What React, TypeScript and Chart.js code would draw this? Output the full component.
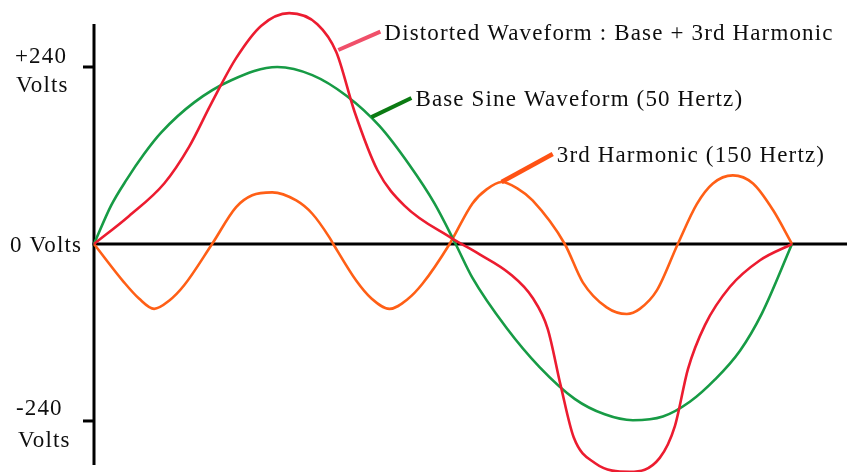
import React, { useEffect, useRef } from "react";
import { Chart, registerables } from "chart.js";

Chart.register(...registerables);

// Phase angle (degrees) and voltage readings for each waveform
const baseDeg = [0, 8.8, 17.0, 25.8, 34.6, 51.7, 70.8, 94.5, 112.6, 130.2, 147.2, 162.7, 175.6, 186.5, 195.2, 212.8, 229.8, 247.9, 263.4, 277.9, 293.4, 307.3, 320.2, 333.1, 344.5, 360];
const baseVolts = [0, 52, 88, 122, 151, 192, 222, 240, 229, 201, 160, 107, 55, 0, -46, -114, -167, -210, -231, -239, -234, -214, -184, -145, -94, 0];

const distDeg = [0, 18.1, 36.2, 49.1, 60.4, 73.3, 86.3, 100.7, 115.2, 125.0, 134.3, 146.2, 160.1, 184.4, 198.9, 214.3, 226.2, 234.0, 240.7, 247.4, 258.3, 276.3, 291.8, 299.6, 306.3, 315.1, 328.0, 343.5, 360];
const distVolts = [0, 38, 82, 132, 190, 252, 296, 313, 298, 260, 180, 100, 52, 8, -14, -40, -73, -115, -192, -262, -297, -309, -290, -247, -170, -110, -58, -22, 0];

const harmDeg = [0, 15.5, 23.2, 31.0, 38.7, 46.5, 60.9, 73.3, 81.6, 91.9, 104.3, 112.6, 121.4, 123.4, 135.3, 143.1, 152.4, 161.7, 169.4, 183.4, 195.2, 202.5, 210.2, 218.5, 226.2, 242.8, 252.1, 264.4, 274.8, 281.5, 290.3, 301.1, 310.9, 319.2, 329.5, 339.9, 350.2, 360];
const harmVolts = [0, -52, -74, -88, -77, -56, 0, 50, 66, 70, 59, 41, 9, 0, -50, -74, -88, -75, -54, 0, 55, 74, 84, 75, 59, 0, -52, -86, -95, -88, -63, 0, 54, 82, 93, 82, 46, 0];

const seriesNames = ["Distorted Waveform", "Base Sine Waveform", "3rd Harmonic"];

// Callout labels with pointer start (on curve) and end, in data units
const calloutTexts = [
  "Distorted Waveform : Base + 3rd Harmonic",
  "Base Sine Waveform (50 Hertz)",
  "3rd Harmonic (150 Hertz)",
];
const calloutStartDeg = [126.0, 143.1, 210.2];
const calloutStartVolts = [263, 172, 84];
const calloutEndDeg = [147.7, 163.7, 236.6];
const calloutEndVolts = [288, 198, 122];

// Axis tick values and labels
const tickValues = [240, 0, -240];
const tickLabels = [["+240", "Volts"], ["0 Volts"], ["-240", "Volts"]];

const toPoints = (xs: number[], ys: number[]) => xs.map((x, i) => ({ x, y: ys[i] }));

export default function App() {
  const ref = useRef<HTMLCanvasElement | null>(null);

  useEffect(() => {
    document.body.style.margin = "0";
    const canvas = ref.current;
    if (!canvas) return;

    const font = '23px "Liberation Serif", "Times New Roman", serif';

    const overlay = {
      id: "overlay",
      beforeDatasetsDraw(chart: any) {
        const ctx = chart.ctx;
        const xs = chart.scales.x;
        const ys = chart.scales.y;
        const ax = xs.getPixelForValue(0);
        const zy = ys.getPixelForValue(0);
        ctx.save();
        ctx.strokeStyle = "#000";
        ctx.lineWidth = 3;
        ctx.lineCap = "butt";
        ctx.beginPath();
        ctx.moveTo(ax, chart.chartArea.top);
        ctx.lineTo(ax, chart.chartArea.bottom);
        ctx.stroke();
        ctx.beginPath();
        ctx.moveTo(ax - 1.5, zy);
        ctx.lineTo(chart.width, zy);
        ctx.stroke();
        tickValues.forEach((v) => {
          if (v === 0) return;
          const ty = ys.getPixelForValue(v);
          ctx.beginPath();
          ctx.moveTo(ax - 11, ty);
          ctx.lineTo(ax, ty);
          ctx.stroke();
        });
        ctx.restore();
      },
      afterDatasetsDraw(chart: any) {
        const ctx = chart.ctx;
        const xs = chart.scales.x;
        const ys = chart.scales.y;
        ctx.save();
        ctx.font = font;
        (ctx as any).letterSpacing = "1.15px";
        ctx.fillStyle = "#0e0e0e";
        ctx.textAlign = "left";
        ctx.textBaseline = "alphabetic";

        tickValues.forEach((v, i) => {
          const ty = ys.getPixelForValue(v);
          const lines = tickLabels[i];
          if (lines.length === 1) {
            ctx.fillText(lines[0], 10, ty + 8.5);
          } else if (v > 0) {
            ctx.fillText(lines[0], 15, ty - 4);
            ctx.fillText(lines[1], 16, ty + 25);
          } else {
            ctx.fillText(lines[0], 16, ty - 6);
            ctx.fillText(lines[1], 18, ty + 26);
          }
        });

        const pointerColors = ["#F0506A", "#0B7A12", "#FF5214"];
        calloutTexts.forEach((t, i) => {
          const sx = xs.getPixelForValue(calloutStartDeg[i]);
          const sy = ys.getPixelForValue(calloutStartVolts[i]);
          const ex = xs.getPixelForValue(calloutEndDeg[i]);
          const ey = ys.getPixelForValue(calloutEndVolts[i]);
          ctx.strokeStyle = pointerColors[i];
          ctx.lineWidth = i === 2 ? 4.5 : 4;
          ctx.lineCap = "butt";
          ctx.beginPath();
          ctx.moveTo(sx, sy);
          ctx.lineTo(ex, ey);
          ctx.stroke();
          ctx.fillText(t, ex + 4, ey + 8);
        });
        ctx.restore();
      },
    };

    const chart = new Chart(canvas, {
      type: "line",
      data: {
        datasets: [
          { label: seriesNames[0], data: toPoints(distDeg, distVolts), borderColor: "#EC1C30" },
          { label: seriesNames[1], data: toPoints(baseDeg, baseVolts), borderColor: "#179B45" },
          { label: seriesNames[2], data: toPoints(harmDeg, harmVolts), borderColor: "#FF5F16" },
        ].map((d) => ({
          ...d,
          borderWidth: 2.6,
          pointRadius: 0,
          fill: false,
          cubicInterpolationMode: "monotone" as const,
          clip: false as any,
        })),
      },
      options: {
        responsive: false,
        animation: false,
        devicePixelRatio: 1,
        layout: { padding: { left: 94, right: 55, top: 24, bottom: 7 } },
        plugins: { legend: { display: false }, tooltip: { enabled: false } },
        scales: {
          x: { type: "linear", min: 0, max: 360, display: false },
          y: { type: "linear", min: -299.7, max: 298.3, display: false },
        },
      },
      plugins: [overlay],
    });

    return () => chart.destroy();
  }, []);

  return (
    <div style={{ position: "absolute", left: 0, top: 0, width: 847, height: 472, background: "#fff" }}>
      <canvas ref={ref} width={847} height={472} style={{ display: "block" }} />
    </div>
  );
}
